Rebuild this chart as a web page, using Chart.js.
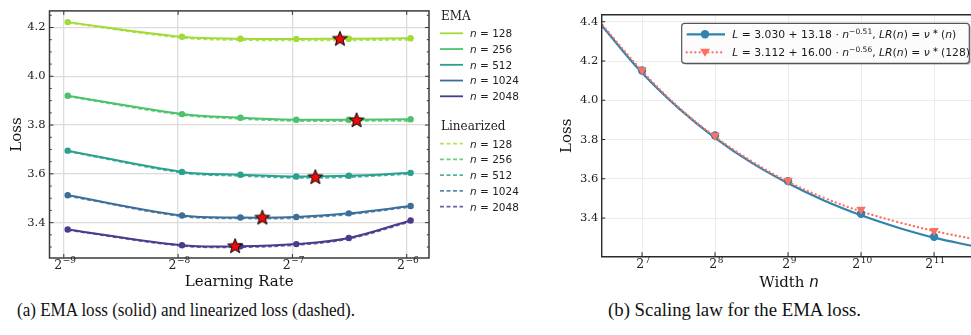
<!DOCTYPE html>
<html>
<head>
<meta charset="utf-8">
<script src="https://cdn.jsdelivr.net/npm/chart.js@4.4.1/dist/chart.umd.min.js"></script>
<style>
html, body { margin: 0; padding: 0; background: #fff; width: 971px; height: 335px; overflow: hidden; }
.box { position: absolute; top: 0; height: 292px; }
.cap { position: absolute; top: 301px; font-family: "Liberation Serif", "Times New Roman", serif; font-size: 18px; line-height: 18px; white-space: nowrap; transform-origin: 0 0; color: #111; }
</style>
</head>
<body>
<div class="box" style="left:0;width:555px"><canvas id="a" width="555" height="292"></canvas></div>
<div class="box" style="left:555px;width:425px"><canvas id="b" width="425" height="292"></canvas></div>
<div class="cap" id="capA" data-w="338" style="left:17px">(a) EMA loss (solid) and linearized loss (dashed).</div>
<div class="cap" id="capB" data-w="253" style="left:608px">(b) Scaling law for the EMA loss.</div>
<script>
// ---- data, panel (a) ----
const lrs = [0.002, 0.004, 0.0057, 0.008, 0.011, 0.016];
const widthLabels = ['128', '256', '512', '1024', '2048'];
const ema128 = [4.222, 4.162, 4.154, 4.153, 4.154, 4.156];
const ema256 = [3.920, 3.845, 3.830, 3.822, 3.822, 3.824];
const ema512 = [3.695, 3.608, 3.596, 3.589, 3.592, 3.604];
const ema1024 = [3.512, 3.429, 3.421, 3.423, 3.438, 3.468];
const ema2048 = [3.372, 3.307, 3.303, 3.312, 3.337, 3.409];
const lin128 = [4.220, 4.158, 4.149, 4.148, 4.148, 4.150];
const lin256 = [3.918, 3.842, 3.826, 3.817, 3.817, 3.818];
const lin512 = [3.693, 3.605, 3.592, 3.584, 3.587, 3.600];
const lin1024 = [3.510, 3.426, 3.418, 3.419, 3.434, 3.465];
const lin2048 = [3.370, 3.305, 3.300, 3.309, 3.334, 3.405];
const optLr = [0.01042, 0.01153, 0.00898, 0.00651, 0.00552];
const optLoss = [4.155, 3.821, 3.588, 3.422, 3.305];
const lrTickExp = [-9, -8, -7, -6];
const lossTicksA = [3.4, 3.6, 3.8, 4.0, 4.2];

// ---- data, panel (b) ----
const widthN = [128, 256, 512, 1024, 2048];
const bestLoss = [4.152, 3.821, 3.588, 3.422, 3.305];
const fixedLoss = [4.154, 3.820, 3.591, 3.444, 3.335];
const fitN = [88, 128, 181, 256, 362, 512, 724, 1024, 1448, 2048, 3000];
const fitBest = [4.376, 4.140, 3.960, 3.809, 3.682, 3.577, 3.488, 3.414, 3.352, 3.300, 3.256];
const fitFixed = [4.383, 4.150, 3.965, 3.815, 3.690, 3.585, 3.502, 3.434, 3.380, 3.334, 3.292];
const widthTickExp = [7, 8, 9, 10, 11];
const lossTicksB = [3.4, 3.6, 3.8, 4.0, 4.2, 4.4];

const colors = ['#a2da37', '#4cc26c', '#29a18e', '#3b6e99', '#4a3b8c'];
const emaSets = [ema128, ema256, ema512, ema1024, ema2048];
const linSets = [lin128, lin256, lin512, lin1024, lin2048];
const blue = '#2f83ad', salmon = '#fb7060';
const SERIF = '"DejaVu Serif", serif', SANS = '"DejaVu Sans", sans-serif';

Chart.defaults.font.family = SERIF;
Chart.defaults.animation = false;

function starImage() {
  const c = document.createElement('canvas');
  c.width = 18; c.height = 18;
  const g = c.getContext('2d');
  g.beginPath();
  for (let i = 0; i < 10; i++) {
    const r = i % 2 ? 3.3 : 7.8;
    const a = -Math.PI / 2 + i * Math.PI / 5;
    g.lineTo(9 + r * Math.cos(a), 9.6 + r * Math.sin(a));
  }
  g.closePath();
  g.fillStyle = '#ee0a0a';
  g.fill();
  g.lineWidth = 1;
  g.strokeStyle = '#000';
  g.stroke();
  return c;
}

function pts(xs, ys) { return xs.map((x, i) => ({ x, y: ys[i] })); }

function powLabel(ctx, x, y, exp, bs, ss, raise) {
  const sup = exp < 0 ? '\u2212' + (-exp) : String(exp);
  ctx.font = bs + 'px ' + SERIF;
  const wb = ctx.measureText('2').width;
  ctx.font = ss + 'px ' + SERIF;
  const ws = ctx.measureText(sup).width;
  const x0 = x - (wb + ws) / 2;
  ctx.textAlign = 'left';
  ctx.textBaseline = 'alphabetic';
  ctx.font = bs + 'px ' + SERIF;
  ctx.fillText('2', x0, y);
  ctx.font = ss + 'px ' + SERIF;
  ctx.fillText(sup, x0 + wb + 0.5, y - raise);
}

// segs: [text, font, raise]
function rich(ctx, x, y, segs) {
  ctx.textAlign = 'left';
  ctx.textBaseline = 'alphabetic';
  for (const s of segs) {
    ctx.font = s[1];
    ctx.fillText(s[0], x, y - (s[2] || 0));
    x += ctx.measureText(s[0]).width;
  }
  return x;
}

function fixedAxes(yw, xh) {
  return {
    y: s => { s.width = yw; },
    x: s => { s.height = xh; }
  };
}

// ---- panel (a) ----
const fitA = fixedAxes(49.5, 34);
const star = starImage();
const dsA = [{
  data: pts(optLr, optLoss), showLine: false, pointStyle: star, pointRadius: 8
}];
emaSets.forEach((arr, i) => dsA.push({
  data: pts(lrs, arr), borderColor: colors[i], backgroundColor: colors[i],
  borderWidth: 2, pointRadius: 3.2, pointBorderWidth: 0, tension: 0.35
}));
linSets.forEach((arr, i) => dsA.push({
  data: pts(lrs, arr), borderColor: colors[i] + 'd0', backgroundColor: colors[i] + 'd0',
  borderWidth: 2, borderDash: [4, 2.5], pointStyle: 'crossRot', pointRadius: 2.5,
  pointBorderWidth: 1, tension: 0.35
}));

const decorA = {
  id: 'decorA',
  afterDraw(chart) {
    const ctx = chart.ctx, ca = chart.chartArea;
    const xs = chart.scales.x, ys = chart.scales.y;
    ctx.save();
    ctx.strokeStyle = '#333';
    ctx.lineWidth = 1;
    ctx.beginPath();
    lossTicksA.forEach(v => {
      const y = ys.getPixelForValue(v);
      ctx.moveTo(ca.left, y); ctx.lineTo(ca.left + 4, y);
      ctx.moveTo(ca.right, y); ctx.lineTo(ca.right - 4, y);
    });
    for (let k = 65; k <= 85; k++) {
      if (k % 4 === 0) continue;
      const y = ys.getPixelForValue(k * 0.05);
      if (y < ca.top || y > ca.bottom) continue;
      ctx.moveTo(ca.left, y); ctx.lineTo(ca.left + 2.2, y);
      ctx.moveTo(ca.right, y); ctx.lineTo(ca.right - 2.2, y);
    }
    lrTickExp.forEach(e => {
      const x = xs.getPixelForValue(Math.pow(2, e));
      ctx.moveTo(x, ca.bottom); ctx.lineTo(x, ca.bottom - 4);
      ctx.moveTo(x, ca.top); ctx.lineTo(x, ca.top + 4);
    });
    ctx.stroke();
    ctx.lineWidth = 1.5;
    ctx.strokeStyle = '#3a3a3a';
    ctx.strokeRect(ca.left, ca.top, ca.right - ca.left, ca.bottom - ca.top);

    ctx.fillStyle = '#222';
    lrTickExp.forEach(e => powLabel(ctx, xs.getPixelForValue(Math.pow(2, e)) + 1, 269, e, 12.5, 9, 6));

    ctx.fillStyle = '#111';
    ctx.font = '15px ' + SERIF;
    ctx.textAlign = 'center';
    ctx.textBaseline = 'middle';
    ctx.fillText('Learning Rate', (ca.left + ca.right) / 2, 282);
    ctx.save();
    ctx.translate(17.5, (ca.top + ca.bottom) / 2);
    ctx.rotate(-Math.PI / 2);
    ctx.fillText('Loss', 0, 0);
    ctx.restore();

    // legend
    const groups = [['EMA', 16.7, 33.3, []], ['Linearized', 127.3, 143.7, [4, 2.5]]];
    groups.forEach(([title, ty, y0, dash], gi) => {
      ctx.fillStyle = '#222';
      ctx.font = '12px ' + SERIF;
      ctx.textAlign = 'left';
      ctx.textBaseline = 'middle';
      ctx.fillText(title, 441, ty);
      widthLabels.forEach((lab, i) => {
        const y = y0 + i * 15.75;
        ctx.strokeStyle = gi ? colors[i] + 'd0' : colors[i];
        ctx.lineWidth = 1.8;
        ctx.setLineDash(dash);
        ctx.beginPath(); ctx.moveTo(440, y); ctx.lineTo(463, y); ctx.stroke();
        ctx.setLineDash([]);
        ctx.fillStyle = '#222';
        rich(ctx, 470, y + 3.8, [['n', 'italic 10.5px ' + SANS], [' = ' + lab, '10.5px ' + SANS]]);
      });
    });
    ctx.restore();
  }
};

new Chart(document.getElementById('a'), {
  type: 'line',
  data: { datasets: dsA },
  options: {
    responsive: false,
    layout: { padding: { top: 9, right: 126, left: 0, bottom: 0 } },
    plugins: { legend: { display: false }, tooltip: { enabled: false } },
    scales: {
      x: {
        type: 'logarithmic', min: Math.pow(2, -9.125), max: Math.pow(2, -5.805),
        afterBuildTicks: s => { s.ticks = lrTickExp.map(e => ({ value: Math.pow(2, e) })); },
        afterFit: fitA.x,
        ticks: { display: false },
        grid: { color: '#dcdcdc', lineWidth: 1.3, drawTicks: false },
        border: { display: false }
      },
      y: {
        min: 3.255, max: 4.268,
        afterBuildTicks: s => { s.ticks = lossTicksA.map(v => ({ value: v })); },
        afterFit: fitA.y,
        ticks: { callback: v => v.toFixed(1), color: '#222', font: { size: 11.5 }, padding: 4 },
        grid: { color: '#dcdcdc', lineWidth: 1.3, drawTicks: false },
        border: { display: false }
      }
    }
  },
  plugins: [decorA]
});

// ---- panel (b) ----
const fitB = fixedAxes(46.7, 35.3);
const dsB = [
  { data: pts(widthN, fixedLoss), showLine: false, pointStyle: 'triangle', rotation: 180,
    pointRadius: 5.5, backgroundColor: salmon, borderColor: salmon, pointBorderWidth: 0 },
  { data: pts(widthN, bestLoss), showLine: false, pointStyle: 'circle',
    pointRadius: 4.2, backgroundColor: blue, borderColor: blue, pointBorderWidth: 0 },
  { data: pts(fitN, fitFixed), borderColor: salmon, borderWidth: 2.3, borderDash: [0.1, 4.2],
    borderCapStyle: 'round', pointRadius: 0, tension: 0.4 },
  { data: pts(fitN, fitBest), borderColor: blue, borderWidth: 2.2, pointRadius: 0, tension: 0.4 }
];

const decorB = {
  id: 'decorB',
  afterDraw(chart) {
    const ctx = chart.ctx, ca = chart.chartArea;
    const xs = chart.scales.x, ys = chart.scales.y;
    ctx.save();
    ctx.strokeStyle = '#222';
    ctx.lineWidth = 1;
    ctx.beginPath();
    lossTicksB.forEach(v => {
      const y = ys.getPixelForValue(v);
      ctx.moveTo(ca.left, y); ctx.lineTo(ca.left + 3.5, y);
    });
    widthTickExp.forEach(e => {
      const x = xs.getPixelForValue(Math.pow(2, e));
      ctx.moveTo(x, ca.bottom); ctx.lineTo(x, ca.bottom - 4.5);
    });
    ctx.stroke();
    ctx.lineWidth = 1.4;
    ctx.strokeStyle = '#2a2a2a';
    ctx.beginPath();
    ctx.moveTo(ca.right + 5, ca.top); ctx.lineTo(ca.left, ca.top);
    ctx.lineTo(ca.left, ca.bottom); ctx.lineTo(ca.right + 5, ca.bottom);
    ctx.stroke();

    ctx.fillStyle = '#222';
    widthTickExp.forEach(e => powLabel(ctx, xs.getPixelForValue(Math.pow(2, e)) + 1, 268, e, 12.5, 9, 5));

    ctx.fillStyle = '#111';
    ctx.font = '15px ' + SERIF;
    ctx.textAlign = 'center';
    ctx.textBaseline = 'middle';
    ctx.save();
    ctx.translate(12.5, (ca.top + ca.bottom) / 2);
    ctx.rotate(-Math.PI / 2);
    ctx.fillText('Loss', 0, 0);
    ctx.restore();
    ctx.font = '15px ' + SERIF;
    const w1 = ctx.measureText('Width ').width;
    ctx.font = 'italic 15px ' + SANS;
    const w2 = ctx.measureText('n').width;
    rich(ctx, 234 - (w1 + w2) / 2, 286.5, [['Width ', '15px ' + SERIF], ['n', 'italic 15px ' + SANS]]);

    // legend box
    const bx = 681.7 - 555, by = 23.3, bw = 287.6, bh = 40;
    ctx.fillStyle = 'rgba(0,0,0,0.25)';
    ctx.beginPath(); ctx.roundRect(bx + 1.5, by + 1.5, bw, bh, 3); ctx.fill();
    ctx.fillStyle = 'rgba(255,255,255,0.95)';
    ctx.strokeStyle = '#555';
    ctx.lineWidth = 1.2;
    ctx.beginPath(); ctx.roundRect(bx, by, bw, bh, 3); ctx.fill(); ctx.stroke();

    const lx0 = 686.7 - 555, lx1 = 725 - 555, lm = 705 - 555;
    const y1 = 34.3, y2 = 52.3;
    ctx.strokeStyle = blue; ctx.lineWidth = 2.2;
    ctx.beginPath(); ctx.moveTo(lx0, y1); ctx.lineTo(lx1, y1); ctx.stroke();
    ctx.fillStyle = blue;
    ctx.beginPath(); ctx.arc(lm, y1, 4.2, 0, Math.PI * 2); ctx.fill();
    ctx.strokeStyle = salmon; ctx.lineWidth = 2.3; ctx.lineCap = 'round';
    ctx.setLineDash([0.1, 4.2]);
    ctx.beginPath(); ctx.moveTo(lx0, y2); ctx.lineTo(lx1, y2); ctx.stroke();
    ctx.setLineDash([]);
    ctx.fillStyle = salmon;
    ctx.beginPath(); ctx.moveTo(lm - 5, y2 - 3.5); ctx.lineTo(lm + 5, y2 - 3.5); ctx.lineTo(lm, y2 + 4.5); ctx.closePath(); ctx.fill();

    const fs = 10.8, R = fs + 'px ' + SANS, I = 'italic ' + fs + 'px ' + SANS, S = (fs * 0.7) + 'px ' + SANS;
    const tx = 732.3 - 555;
    ctx.fillStyle = '#1a1a1a';
    const lines = [
      [y1, '3.030', '13.18', '\u22120.51', '(', 'n', ')'],
      [y2, '3.112', '16.00', '\u22120.56', '(128)', '', '']
    ];
    lines.forEach(([y, a, b, p, t0, t1, t2]) => {
      const segs = [['L', I], [' = ' + a + ' + ' + b + ' \u00b7 ', R], ['n', I], [p, S, 4.5],
        [', ', R], ['LR', I], ['(', R], ['n', I], [') = ', R], ['\u03bd', I], [' \u2217 ', S, 4]];
      if (t1) { segs.push([t0, R], [t1, I], [t2, R]); } else { segs.push([t0, R]); }
      rich(ctx, tx, y + 3.9, segs);
    });
    ctx.restore();
  }
};

new Chart(document.getElementById('b'), {
  type: 'line',
  data: { datasets: dsB },
  options: {
    responsive: false,
    layout: { padding: { top: 14.7, right: 3, left: 0, bottom: 0 } },
    plugins: { legend: { display: false }, tooltip: { enabled: false } },
    scales: {
      x: {
        type: 'logarithmic', min: Math.pow(2, 6.4476), max: Math.pow(2, 11.554),
        afterBuildTicks: s => { s.ticks = widthTickExp.map(e => ({ value: Math.pow(2, e) })); },
        afterFit: fitB.x,
        ticks: { display: false },
        grid: { color: '#ececec', lineWidth: 1, drawTicks: false },
        border: { display: false }
      },
      y: {
        min: 3.203, max: 4.436,
        afterBuildTicks: s => { s.ticks = lossTicksB.map(v => ({ value: v })); },
        afterFit: fitB.y,
        ticks: { callback: v => v.toFixed(1), color: '#222', font: { size: 11.5 }, padding: 3.5 },
        grid: { color: '#ececec', lineWidth: 1, drawTicks: false },
        border: { display: false }
      }
    }
  },
  plugins: [decorB]
});

// squeeze captions to the reference widths
document.querySelectorAll('.cap').forEach(el => {
  const w = el.getBoundingClientRect().width;
  el.style.transform = 'scaleX(' + (Number(el.dataset.w) / w) + ')';
});
</script>
</body>
</html>
